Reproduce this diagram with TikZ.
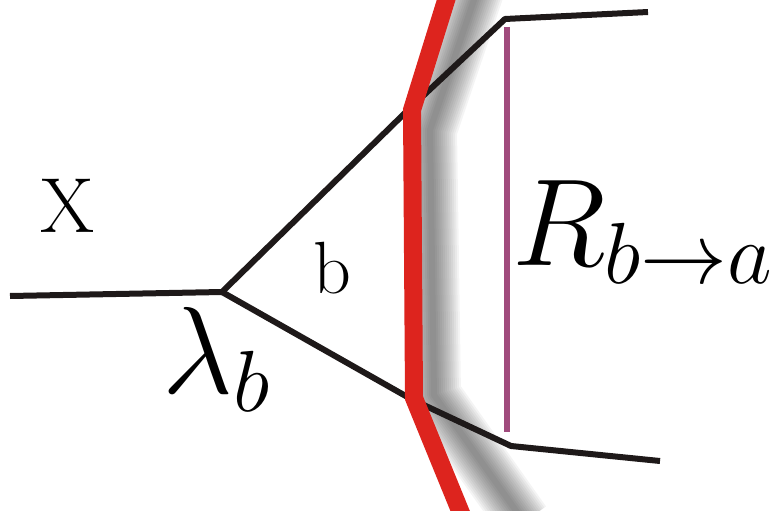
\RequirePackage{fix-cm}
\documentclass[tikz,border=0pt]{standalone}
\usepackage{tikz}
\usetikzlibrary{calc}
\definecolor{legblack}{RGB}{30,25,25}
\definecolor{cutred}{RGB}{221,36,30}
\definecolor{rangepurple}{RGB}{160,75,125}

\begin{document}
\begin{tikzpicture}[x=1pt,y=-1pt,
  leg/.style={line width=6pt, draw=legblack, line join=round},
  cut/.style={line width=18pt, draw=cutred, line join=miter},
  lab/.style={anchor=base west, inner sep=0pt}]
\useasboundingbox (0,0) rectangle (784,511);

% vertex and the two legs
\coordinate (in) at (10,296);
\coordinate (v) at (222,292);
\coordinate (up1) at (408,110);
\coordinate (up2) at (505,19);
\coordinate (up3) at (648,12);
\coordinate (lo1) at (411,399);
\coordinate (lo2) at (511,446);
\coordinate (lo3) at (660,461);

% the cut and its shadow
\coordinate (ctop) at (448,-6);
\coordinate (cbend1) at (412,110);
\coordinate (cbend2) at (414,398);
\coordinate (cbot) at (463,518);
\coordinate (stop) at (478,-12);
\coordinate (sbend1) at (430,130);
\coordinate (sbend2) at (434,395);
\coordinate (sbot) at (524,522);

\foreach \w in {54,50,...,6}
  \draw[line width=\w pt, black, opacity=0.045, line join=round]
    (stop) -- (sbend1) -- (sbend2) -- (sbot);

\draw[leg] (in) -- (v);
\draw[leg] (v) -- (up1) -- (up2) -- (up3);
\draw[leg] (v) -- (lo1) -- (lo2) -- (lo3);

% range of the residue
\coordinate (rtop) at (507,27);
\coordinate (rbot) at (507,432);
\draw[line width=6pt, rangepurple] (rtop) -- (rbot);

\draw[cut] (ctop) -- (cbend1) -- (cbend2) -- (cbot);

% labels
\node[lab, font=\fontsize{78}{78}\selectfont] (xlab) at (40,232) {X};
\node[lab, font=\fontsize{74}{74}\selectfont] (blab) at (313,293) {b};
\node[lab, font=\fontsize{124}{124}\selectfont] (lam) at (162,393) {$\lambda_b$};
\node[lab, font=\fontsize{124}{124}\selectfont] (rlab) at (512,265) {$R_{b\to a}$};
\end{tikzpicture}
\end{document}
